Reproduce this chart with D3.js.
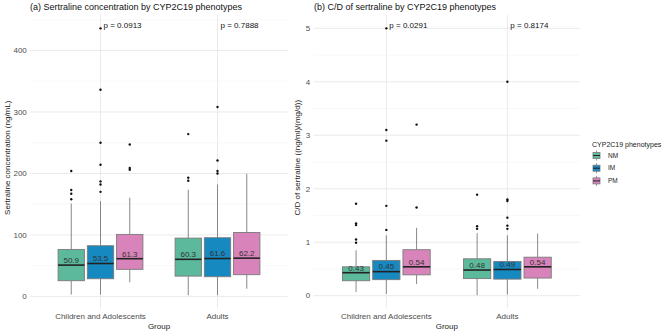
<!DOCTYPE html>
<html lang="en">
<head>
    <meta charset="UTF-8">
    <title>Sertraline by CYP2C19 phenotypes</title>
    <script src="https://d3js.org/d3.v7.min.js"></script>
    <style>
        body { margin: 0; background: #fff; }
        text { font-family: "Liberation Sans", Arial, sans-serif; }
    </style>
</head>
<body>
<div id="chart"></div>
<script>
    // groups and phenotypes
    var groups = ["Children and Adolescents", "Adults"];
    var phenotypes = ["NM", "IM", "PM"];
    var colors = ["#5cb99b", "#1689c0", "#d883ba"];

    // (a) sertraline concentration, boxes in order: children NM/IM/PM, adults NM/IM/PM
    var concLow = [3, 3, 23, 2, 2, 12.5];
    var concQ1 = [25.5, 28.7, 44, 33, 32, 35.3];
    var concMedian = [50.9, 53.5, 61.3, 60.3, 61.6, 62.2];
    var concQ3 = [76.4, 82.4, 100.8, 94.8, 95.4, 104];
    var concHigh = [151, 155, 160.5, 173.5, 182, 199.5];
    var concOutliers = [[158, 167, 173, 204], [170, 182, 187, 214, 250, 336, 436], [206, 209, 247],
                        [188, 193, 264], [200, 204, 221, 308], []];
    var concLabels = ["50.9", "53.5", "61.3", "60.3", "61.6", "62.2"];
    var concP = ["p = 0.0913", "p = 0.7888"];
    var concTicks = [0, 100, 200, 300, 400];

    // (b) C/D of sertraline
    var cdLow = [0.07, 0.03, 0.22, 0.01, 0.02, 0.13];
    var cdQ1 = [0.28, 0.30, 0.39, 0.32, 0.31, 0.33];
    var cdMedian = [0.43, 0.45, 0.54, 0.48, 0.49, 0.54];
    var cdQ3 = [0.54, 0.66, 0.86, 0.69, 0.64, 0.72];
    var cdHigh = [0.85, 1.13, 1.27, 1.17, 1.13, 1.16];
    var cdOutliers = [[0.99, 1.05, 1.32, 1.35, 1.72], [1.23, 1.68, 2.9, 3.1, 5.0], [1.65, 3.2],
                      [1.25, 1.3, 1.89], [1.25, 1.31, 1.46, 1.77, 1.8, 4.0], []];
    var cdLabels = ["0.43", "0.45", "0.54", "0.48", "0.49", "0.54"];
    var cdP = ["p = 0.0291", "p = 0.8174"];
    var cdTicks = [0, 1, 2, 3, 4, 5];

    var width = 669, height = 334;
    var svg = d3.select("#chart").append("svg")
        .attr("width", width)
        .attr("height", height);

    var color = d3.scaleOrdinal().domain(phenotypes).range(colors);

    function drawPanel(opt) {
        var g = svg.append("g");
        var top = 15, bottom = 308.5;

        // y scale with ggplot style 5% expansion
        var allVals = opt.low.concat(opt.high, d3.merge(opt.outliers));
        var lo = d3.min(allVals), hi = d3.max(allVals);
        var pad = (hi - lo) * 0.05;
        var y = d3.scaleLinear().domain([lo - pad, hi + pad]).range([bottom, top]);

        // x: groups with 0.6 expansion on each side
        var x = d3.scaleBand().domain(groups)
            .range([opt.left, opt.right])
            .paddingInner(0.25).paddingOuter(0.225);
        var sub = d3.scaleBand().domain(phenotypes).range([0, x.bandwidth()]);
        var boxW = sub.bandwidth() * 0.9;

        // grid
        var ticks = opt.ticks;
        var step = ticks[1] - ticks[0];
        var minorTicks = ticks.map(function (t) { return t + step / 2; })
            .filter(function (t) { return y(t) > top; });
        g.selectAll(".minor").data(minorTicks).enter().append("line")
            .attr("x1", opt.left).attr("x2", opt.right)
            .attr("y1", function (d) { return y(d); }).attr("y2", function (d) { return y(d); })
            .attr("stroke", "#f3f3f3").attr("stroke-width", 0.6);
        g.selectAll(".major").data(ticks).enter().append("line")
            .attr("x1", opt.left).attr("x2", opt.right)
            .attr("y1", function (d) { return y(d); }).attr("y2", function (d) { return y(d); })
            .attr("stroke", "#e8e8e8").attr("stroke-width", 0.9);
        g.selectAll(".vgrid").data(groups).enter().append("line")
            .attr("x1", function (d) { return x(d) + x.bandwidth() / 2; })
            .attr("x2", function (d) { return x(d) + x.bandwidth() / 2; })
            .attr("y1", top).attr("y2", bottom)
            .attr("stroke", "#e8e8e8").attr("stroke-width", 0.9);

        // y tick labels
        g.selectAll(".ytick").data(ticks).enter().append("text")
            .attr("x", opt.left - 3.5).attr("y", function (d) { return y(d); })
            .attr("dy", "0.35em").attr("text-anchor", "end")
            .attr("font-size", 8).attr("fill", "#4d4d4d")
            .text(function (d) { return d; });

        // x tick labels
        g.selectAll(".xtick").data(groups).enter().append("text")
            .attr("x", function (d) { return x(d) + x.bandwidth() / 2; })
            .attr("y", 318.5).attr("text-anchor", "middle")
            .attr("font-size", 8).attr("fill", "#4d4d4d")
            .text(function (d) { return d; });

        // axis titles
        g.append("text")
            .attr("x", (opt.left + opt.right) / 2).attr("y", 328.5)
            .attr("text-anchor", "middle").attr("font-size", 8).attr("fill", "#222")
            .text("Group");
        g.append("text")
            .attr("transform", "translate(" + opt.ytitleX + "," + ((top + bottom) / 2 - 4) + ") rotate(-90)")
            .attr("text-anchor", "middle").attr("font-size", 8).attr("fill", "#222")
            .text(opt.ytitle);

        // title
        g.append("text")
            .attr("x", opt.titleX).attr("y", 10)
            .attr("font-size", 9).attr("fill", "#111")
            .text(opt.title);

        // boxes
        var boxes = [];
        groups.forEach(function (gr, gi) {
            phenotypes.forEach(function (ph, pi) {
                var i = gi * 3 + pi;
                boxes.push({
                    group: gr, pheno: ph,
                    cx: x(gr) + sub(ph) + sub.bandwidth() / 2,
                    low: opt.low[i], q1: opt.q1[i], med: opt.median[i], q3: opt.q3[i],
                    high: opt.high[i], out: opt.outliers[i], label: opt.labels[i]
                });
            });
        });

        var bg = g.selectAll(".box").data(boxes).enter().append("g");
        bg.append("line")
            .attr("x1", function (d) { return d.cx; }).attr("x2", function (d) { return d.cx; })
            .attr("y1", function (d) { return y(d.q3); }).attr("y2", function (d) { return y(d.high); })
            .attr("stroke", "#7a7a7a").attr("stroke-width", 0.9);
        bg.append("line")
            .attr("x1", function (d) { return d.cx; }).attr("x2", function (d) { return d.cx; })
            .attr("y1", function (d) { return y(d.q1); }).attr("y2", function (d) { return y(d.low); })
            .attr("stroke", "#7a7a7a").attr("stroke-width", 0.9);
        bg.append("rect")
            .attr("x", function (d) { return d.cx - boxW / 2; })
            .attr("y", function (d) { return y(d.q3); })
            .attr("width", boxW)
            .attr("height", function (d) { return y(d.q1) - y(d.q3); })
            .attr("fill", function (d) { return color(d.pheno); })
            .attr("stroke", "#7a7a7a").attr("stroke-width", 0.9);
        bg.append("line")
            .attr("x1", function (d) { return d.cx - boxW / 2; })
            .attr("x2", function (d) { return d.cx + boxW / 2; })
            .attr("y1", function (d) { return y(d.med); }).attr("y2", function (d) { return y(d.med); })
            .attr("stroke", "#222").attr("stroke-width", 1.6);
        bg.selectAll("circle").data(function (d) {
                return d.out.map(function (v) { return { cx: d.cx, v: v }; });
            }).enter().append("circle")
            .attr("cx", function (d) { return d.cx; })
            .attr("cy", function (d) { return y(d.v); })
            .attr("r", 1.2).attr("fill", "#111");
        bg.append("text")
            .attr("x", function (d) { return d.cx; })
            .attr("y", function (d) { return y(d.med) - 5; })
            .attr("dy", "0.35em").attr("text-anchor", "middle")
            .attr("font-size", 8).attr("fill", "#333")
            .text(function (d) { return d.label; });

        // p values
        g.selectAll(".pval").data(groups).enter().append("text")
            .attr("x", function (d) { return x(d) + x.bandwidth() / 2 + 3; })
            .attr("y", y(hi * 1.012)).attr("dy", "0.35em")
            .attr("font-size", 8).attr("fill", "#111")
            .text(function (d, i) { return opt.p[i]; });
    }

    drawPanel({
        left: 30.3, right: 287.7, ytitleX: 9.5, titleX: 30,
        title: "(a) Sertraline concentration by CYP2C19 phenotypes",
        ytitle: "Sertraline concentration (ng/mL)",
        low: concLow, q1: concQ1, median: concMedian, q3: concQ3, high: concHigh,
        outliers: concOutliers, labels: concLabels, p: concP, ticks: concTicks
    });

    drawPanel({
        left: 313.7, right: 580, ytitleX: 299.5, titleX: 314,
        title: "(b) C/D of sertraline by CYP2C19 phenotypes",
        ytitle: "C/D of sertraline ((ng/ml)/(mg/d))",
        low: cdLow, q1: cdQ1, median: cdMedian, q3: cdQ3, high: cdHigh,
        outliers: cdOutliers, labels: cdLabels, p: cdP, ticks: cdTicks
    });

    // legend
    var legend = svg.append("g").attr("transform", "translate(592,0)");
    legend.append("text")
        .attr("x", 0).attr("y", 146.5)
        .attr("font-size", 7).attr("fill", "#222")
        .text("CYP2C19 phenotypes");
    var items = legend.selectAll(".item").data(phenotypes).enter().append("g")
        .attr("transform", function (d, i) { return "translate(0," + (155.5 + i * 12.7) + ")"; });
    items.append("line")
        .attr("x1", 4.5).attr("x2", 4.5).attr("y1", -5).attr("y2", 5)
        .attr("stroke", "#7a7a7a").attr("stroke-width", 0.8);
    items.append("rect")
        .attr("x", 1).attr("y", -3).attr("width", 7).attr("height", 6)
        .attr("fill", function (d) { return color(d); })
        .attr("stroke", "#7a7a7a").attr("stroke-width", 0.8);
    items.append("line")
        .attr("x1", 1).attr("x2", 8).attr("y1", 0).attr("y2", 0)
        .attr("stroke", "#222").attr("stroke-width", 1);
    items.append("text")
        .attr("x", 16).attr("y", 0).attr("dy", "0.35em")
        .attr("font-size", 6.5).attr("fill", "#222")
        .text(function (d) { return d; });
</script>
</body>
</html>
